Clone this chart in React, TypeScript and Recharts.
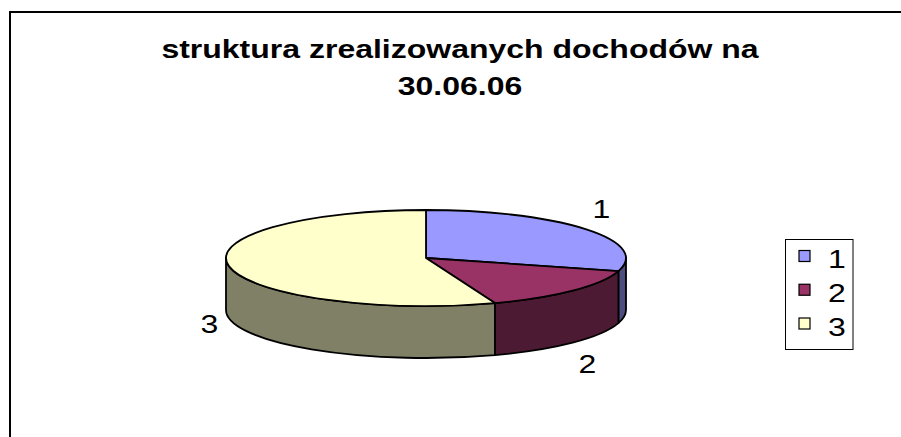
import { PieChart, Pie, Cell, Legend } from 'recharts'

const NAMES = ['1', '2', '3']
const VALUES = [29.4, 15, 55.6]
const TOP_COLORS = ['#9999FF', '#993366', '#FFFFCC']
const SIDE_COLORS = ['#4D4D80', '#4D1A33', '#808066']
const TITLE_LINES = ['struktura zrealizowanych dochodów na', '30.06.06']

const data = NAMES.map((name, i) => ({ name, value: VALUES[i] }))

const FONT = '"Liberation Sans", Arial, sans-serif'
const RAD = Math.PI / 180
const TILT = 0.24 // ry / rx of the top face
const DEPTH = 52 // height of the side wall
const STRETCH = 1.28 // the original text is wider than plain Arial

const ellipsePoint = (cx: number, cy: number, rx: number, ry: number, a: number) => [
  cx + rx * Math.cos(a * RAD),
  cy - ry * Math.sin(a * RAD),
]

// side wall: only the part of the arc that faces the viewer (lower half)
const SideShape = (props: any) => {
  const { cx, cy, outerRadius, startAngle, endAngle, fill } = props
  const rx = outerRadius
  const ry = outerRadius * TILT
  const lo = Math.min(startAngle, endAngle)
  const hi = Math.max(startAngle, endAngle)
  const parts: string[] = []
  for (const [r0, r1] of [[-540, -360], [-180, 0], [180, 360]]) {
    const a = Math.max(lo, r0)
    const b = Math.min(hi, r1)
    if (b - a < 0.01) continue
    const [x1, y1] = ellipsePoint(cx, cy, rx, ry, a)
    const [x2, y2] = ellipsePoint(cx, cy, rx, ry, b)
    parts.push(
      `M${x1},${y1} A${rx},${ry} 0 0 0 ${x2},${y2} L${x2},${y2 + DEPTH} A${rx},${ry} 0 0 1 ${x1},${y1 + DEPTH} Z`
    )
  }
  if (!parts.length) return <g />
  return <path d={parts.join(' ')} fill={fill} stroke="#000" strokeWidth={1.8} strokeLinejoin="round" />
}

const TopShape = (props: any) => {
  const { cx, cy, outerRadius, startAngle, endAngle, fill } = props
  const rx = outerRadius
  const ry = outerRadius * TILT
  const [sx, sy] = ellipsePoint(cx, cy, rx, ry, startAngle)
  const [ex, ey] = ellipsePoint(cx, cy, rx, ry, endAngle)
  const large = Math.abs(endAngle - startAngle) > 180 ? 1 : 0
  const sweep = endAngle < startAngle ? 1 : 0
  return (
    <path
      d={`M${cx},${cy} L${sx},${sy} A${rx},${ry} 0 ${large} ${sweep} ${ex},${ey} Z`}
      fill={fill}
      stroke="#000"
      strokeWidth={1.8}
      strokeLinejoin="round"
    />
  )
}

const renderLabel = (props: any) => {
  const { cx, cy, midAngle, outerRadius } = props
  const name = props.name ?? props.payload?.name
  const s = Math.sin(midAngle * RAD)
  const c = Math.cos(midAngle * RAD)
  const x = cx + (outerRadius + 20) * c
  const y = cy - (outerRadius * TILT + 32) * s + (s < 0 ? DEPTH : 0)
  return (
    <text
      transform={`translate(${x},${y}) scale(${STRETCH},1)`}
      textAnchor="middle"
      dominantBaseline="central"
      fontSize={25}
      fontFamily={FONT}
      fill="#000"
    >
      {name}
    </text>
  )
}

const renderLegend = (props: any) => {
  const seen = new Set<string>()
  const items = (props.payload || []).filter((e: any) => {
    const v = String(e.value)
    if (e.type === 'none' || seen.has(v) || !NAMES.includes(v)) return false
    seen.add(v)
    return true
  })
  return (
    <svg width={69} height={111} style={{ display: 'block' }}>
      <rect x={0.5} y={0.5} width={67.5} height={110} fill="#fff" stroke="#000" strokeWidth={1} />
      {items.map((entry: any, i: number) => {
        const idx = NAMES.indexOf(String(entry.value))
        const sy = 17 + i * 33.75
        return (
          <g key={entry.value}>
            <rect x={14} y={sy - 5.5} width={11} height={11} fill={TOP_COLORS[idx]} stroke="#000" strokeWidth={1.2} />
            <text
              transform={`translate(43,${sy + 3.4}) scale(${STRETCH},1)`}
              dominantBaseline="central"
              fontSize={25}
              fontFamily={FONT}
              fill="#000"
            >
              {entry.value}
            </text>
          </g>
        )
      })}
    </svg>
  )
}

export default function App() {
  return (
    <div
      style={{
        position: 'absolute',
        left: 0,
        top: 0,
        width: 901,
        height: 437,
        overflow: 'hidden',
        background: '#fff',
        fontFamily: FONT,
      }}
    >
      <div
        style={{
          position: 'absolute',
          left: 9,
          top: 11,
          width: 1000,
          height: 1000,
          borderLeft: '2px solid #000',
          borderTop: '2px solid #000',
        }}
      />
      <svg width={901} height={437} style={{ position: 'absolute', left: 0, top: 0 }}>
        {TITLE_LINES.map((line, i) => (
          <text
            key={line}
            transform={`translate(460,${58 + i * 37}) scale(${STRETCH},1)`}
            textAnchor="middle"
            fontSize={25}
            fontWeight="bold"
            fontFamily={FONT}
            fill="#000"
          >
            {line}
          </text>
        ))}
      </svg>
      <div style={{ position: 'absolute', left: 0, top: 0 }}>
        <PieChart width={901} height={437} margin={{ top: 0, right: 0, bottom: 0, left: 0 }}>
          <Pie
            data={data}
            dataKey="value"
            nameKey="name"
            cx={426}
            cy={258}
            outerRadius={200}
            startAngle={90}
            endAngle={-270}
            isAnimationActive={false}
            legendType="none"
            label={false}
            labelLine={false}
            shape={SideShape}
            activeShape={SideShape}
            inactiveShape={SideShape}
          >
            {data.map((d, i) => (
              <Cell key={d.name} fill={SIDE_COLORS[i]} />
            ))}
          </Pie>
          <Pie
            data={data}
            dataKey="value"
            nameKey="name"
            cx={426}
            cy={258}
            outerRadius={200}
            startAngle={90}
            endAngle={-270}
            isAnimationActive={false}
            label={renderLabel}
            labelLine={false}
            shape={TopShape}
            activeShape={TopShape}
            inactiveShape={TopShape}
          >
            {data.map((d, i) => (
              <Cell key={d.name} fill={TOP_COLORS[i]} />
            ))}
          </Pie>
          <Legend
            content={renderLegend}
            wrapperStyle={{ position: 'absolute', left: 785, top: 239, width: 69, height: 111 }}
          />
        </PieChart>
      </div>
    </div>
  )
}
